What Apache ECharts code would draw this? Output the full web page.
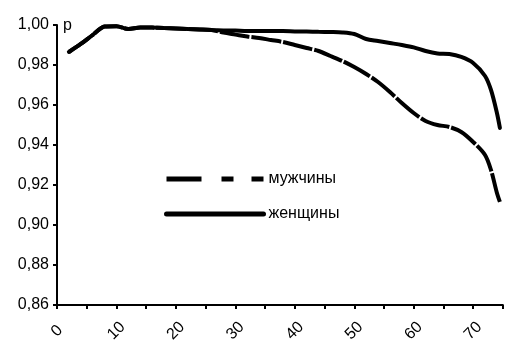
<!DOCTYPE html>
<html style="height: 100%">
<head>
    <meta charset="utf-8">
</head>
<body style="height: 100%; margin: 0; background: #fff">
    <div id="container" style="width: 505px; height: 345px"></div>
    <script src="https://cdn.jsdelivr.net/npm/echarts@6/dist/echarts.min.js"></script>
    <script type="text/javascript">
        // возраст (лет)
        var ages = [2, 4, 6, 8, 10, 12, 14, 16, 18, 20, 22, 24, 26, 28, 30, 32, 34, 36, 38, 40,
                    42, 44, 46, 48, 50, 52, 54, 56, 58, 60, 62, 64, 66, 68, 70, 72, 73, 74, 74.5];
        var men = [0.9865, 0.9905, 0.995, 0.9992, 0.9994, 0.998, 0.9988, 0.9987, 0.9985, 0.9983,
                   0.998, 0.9978, 0.9975, 0.9962, 0.9952, 0.9942, 0.9935, 0.9925, 0.9915, 0.990,
                   0.9885, 0.987, 0.9845, 0.982, 0.979, 0.9755, 0.9715, 0.9665, 0.961, 0.956,
                   0.952, 0.950, 0.949, 0.9465, 0.9415, 0.935, 0.9275, 0.916, 0.9115];
        var women = [0.9865, 0.9905, 0.995, 0.9992, 0.9994, 0.998, 0.9988, 0.9987, 0.9985, 0.9983,
                     0.998, 0.9978, 0.9975, 0.9973, 0.9972, 0.997, 0.997, 0.997, 0.997, 0.9968,
                     0.9967, 0.9966, 0.9965, 0.9963, 0.9955, 0.993, 0.992, 0.991, 0.990, 0.9888,
                     0.987, 0.9858, 0.9855, 0.984, 0.981, 0.9745, 0.9675, 0.956, 0.9485];
        var names = ['мужчины', 'женщины'];

        function pairs(vals) {
            var out = [];
            for (var i = 0; i < ages.length; i++) {
                out.push([ages[i], vals[i]]);
            }
            return out;
        }

        var font = 'Liberation Sans, Arial, sans-serif';
        var myChart = echarts.init(document.getElementById('container'));
        var option = {
            animation: false,
            color: ['#000', '#000'],
            grid: { left: 57, right: -3, top: 25, bottom: 40 },
            legend: {
                orient: 'vertical',
                left: 159,
                top: 166,
                itemWidth: 97,
                itemHeight: 14,
                itemGap: 19,
                itemStyle: { opacity: 0 },
                textStyle: { fontFamily: font, fontSize: 16, color: '#000' },
                data: [
                    { name: names[0], lineStyle: { type: [35, 20, 12, 18], width: 5 } },
                    { name: names[1], lineStyle: { width: 5, cap: 'round' } }
                ]
            },
            xAxis: {
                type: 'value',
                min: 0,
                max: 75,
                interval: 5,
                splitLine: { show: false },
                axisLine: { onZero: false, lineStyle: { color: '#000', width: 2 } },
                axisTick: { length: 4, lineStyle: { color: '#000', width: 2 } },
                axisLabel: {
                    rotate: 45,
                    margin: 26,
                    align: 'center',
                    verticalAlign: 'middle',
                    color: '#000',
                    fontFamily: font,
                    fontSize: 16,
                    formatter: function (v) { return v % 10 === 0 ? String(v) : ''; }
                }
            },
            yAxis: {
                type: 'value',
                min: 0.86,
                max: 1.0,
                interval: 0.02,
                name: 'p',
                nameLocation: 'end',
                nameGap: -1,
                nameTextStyle: {
                    color: '#000', fontFamily: font, fontSize: 16,
                    align: 'left', verticalAlign: 'middle', padding: [0, 0, 0, 6]
                },
                splitLine: { show: false },
                axisLine: { show: true, lineStyle: { color: '#000', width: 2 } },
                axisTick: { show: true, length: 4, lineStyle: { color: '#000', width: 2 } },
                axisLabel: {
                    margin: 8,
                    color: '#000',
                    fontFamily: font,
                    fontSize: 16,
                    formatter: function (v) { return v.toFixed(2).replace('.', ','); }
                }
            },
            series: [
                {
                    name: names[0],
                    type: 'line',
                    smooth: 0.3,
                    symbol: 'none',
                    data: pairs(men),
                    lineStyle: { color: '#000', width: 4, type: [30, 2] }
                },
                {
                    name: names[1],
                    type: 'line',
                    smooth: 0.3,
                    symbol: 'none',
                    data: pairs(women),
                    lineStyle: { color: '#000', width: 4, cap: 'round' }
                }
            ]
        };
        myChart.setOption(option);
    </script>
</body>
</html>
